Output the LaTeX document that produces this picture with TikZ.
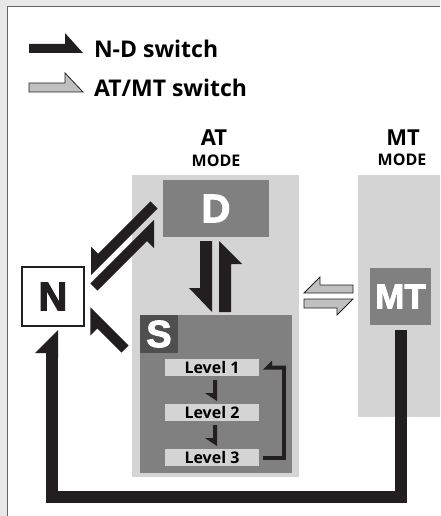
\documentclass[tikz,border=0pt]{standalone}
\usepackage{fontspec}
\setmainfont{Open Sans}[BoldFont=* Bold]
\newfontfamily\heavy{Liberation Sans}[BoldFeatures={FakeBold=2.5}]
\usetikzlibrary{calc}
\definecolor{bgout}{RGB}{232,232,232}
\definecolor{lgray}{RGB}{212,212,212}
\definecolor{mgray}{RGB}{128,128,128}
\definecolor{dgray}{RGB}{79,79,79}
\definecolor{ink}{RGB}{35,31,32}
\definecolor{agray}{RGB}{192,192,192}
\definecolor{framec}{RGB}{100,100,100}
% #1 style, #2 side (1 = barb on right-hand side, -1 = left-hand), #3 tail, #4 angle, #5 length, #6 width, #7 head length, #8 barb
\newcommand\harpoon[8]{%
  \begin{scope}[shift={#3}, rotate=#4]
    \path[#1] (0pt,{#2*(-#6/2)*1pt}) -- ({(#5-#7)*1pt},{#2*(-#6/2)*1pt})
      -- ({(#5-#7)*1pt},{#2*(-#6/2-#8)*1pt}) -- ({#5*1pt},{#2*(#6/2)*1pt})
      -- (0pt,{#2*(#6/2)*1pt}) -- cycle;
  \end{scope}}
\begin{document}
\begin{tikzpicture}[x=1pt,y=-1pt,
  every node/.style={inner sep=0pt, outer sep=0pt},
  blk/.style={fill=ink},
  gry/.style={fill=agray, draw=ink, line width=0.8pt, line join=miter},
  legendtxt/.style={anchor=west, font=\bfseries\fontsize{23}{27}\selectfont},
  modebig/.style={font=\bfseries\fontsize{22}{26}\selectfont},
  modesmall/.style={font=\bfseries\fontsize{16}{18}\selectfont},
  lvl/.style={fill=lgray, minimum width=94, minimum height=17, font=\bfseries\fontsize{16}{18}\selectfont},
  heavytxt/.style={text=white, font=\heavy\bfseries\fontsize{#1}{#1}\selectfont},
  loopline/.style={draw=ink, line width=#1, line join=miter, line cap=butt}]
\useasboundingbox (0,0) rectangle (440,516);
\clip (0,0) rectangle (440,516);
\fill[bgout] (0,0) rectangle (440,516);
\fill[white] (7.5,6.5) rectangle (445,525);
\draw[framec, line width=1.4] (7.5,525) -- (7.5,6.5) -- (445,6.5);

% legend
\harpoon{blk}{-1}{(29,48.5)}{0}{54}{9}{18}{11}
\node[legendtxt] (legND) at (94,49) {N-D switch};
\harpoon{gry}{-1}{(29,87.5)}{0}{54}{9}{18}{10}
\node[legendtxt] (legAM) at (94,88) {AT/MT switch};

% mode labels
\node[modebig] (ATlab) at (214,138) {AT};
\node[modesmall] (ATmode) at (216,161) {MODE};
\node[modebig] (MTlab) at (403,138) {MT};
\node[modesmall] (MTmode) at (402,160) {MODE};

% AT mode area
\node[fill=lgray, minimum width=167, minimum height=302] (ATbox) at (215.5,326) {};
\node[fill=mgray, minimum width=106, minimum height=57, heavytxt=40] (D) at (216,208.5) {D};
\node[fill=mgray, minimum width=152, minimum height=158] (S) at (216,394) {};
\node[fill=dgray, minimum width=38, minimum height=38, heavytxt=38] (Slab) at (159,334) {S};
\node[lvl] (L1) at (212,367.5) {Level 1};
\node[lvl] (L2) at (212,412.5) {Level 2};
\node[lvl] (L3) at (212,457.5) {Level 3};

% MT mode area
\node[fill=lgray, minimum width=83, minimum height=242] (MTbox) at (399.5,296) {};
\node[fill=mgray, minimum width=61, minimum height=57, heavytxt=35] (MT) at (400.5,296.5) {MT};

% N
\node[fill=white, draw=ink, line width=2, minimum width=62, minimum height=59, text=ink,
      font=\heavy\bfseries\fontsize{40}{40}\selectfont] (N) at (53,296.5) {N};

% D <-> S
\harpoon{blk}{1}{($(D.south)+(-10,4)$)}{-90}{71}{12}{24}{11}
\harpoon{blk}{1}{($(S.north)+(9,-3)$)}{90}{71}{12}{23}{11}

% level steps
\harpoon{blk}{1}{($(L1.south)+(3,4)$)}{-90}{21}{4}{8}{8}
\harpoon{blk}{1}{($(L2.south)+(3,4)$)}{-90}{21}{4}{8}{8}
\draw[loopline=4] ($(L3.east)+(4,0)$) -| ($(L1.east)+(25,0)$);
\harpoon{blk}{1}{($(L1.east)+(27,0)$)}{180}{23}{4}{9}{5}

% AT <-> MT
\harpoon{gry}{1}{($(MTbox.west)+(-5,-7)$)}{180}{49}{8}{16}{8}
\harpoon{gry}{1}{($(ATbox.east |- MTbox.west)+(5,7.5)$)}{0}{49}{9}{16}{7}

% N <-> D and S -> N
\harpoon{blk}{1}{($(D.west)+(-9,-3.5)$)}{225}{94}{10}{20}{10}
\harpoon{blk}{1}{($(N.east)+(10,-9.5)$)}{45}{90}{10}{20}{10}
\harpoon{blk}{-1}{($(N.east)+(41,52.5)$)}{135}{54}{10}{20}{10}

% MT -> N
\draw[loopline=12] ($(MT.south)+(0.5,5)$) -- ++(0,167) -| ($(N.south)+(-1,30)$);
\harpoon{blk}{-1}{($(N.south)+(-1,32)$)}{90}{28}{12}{23}{11}
\end{tikzpicture}
\end{document}
